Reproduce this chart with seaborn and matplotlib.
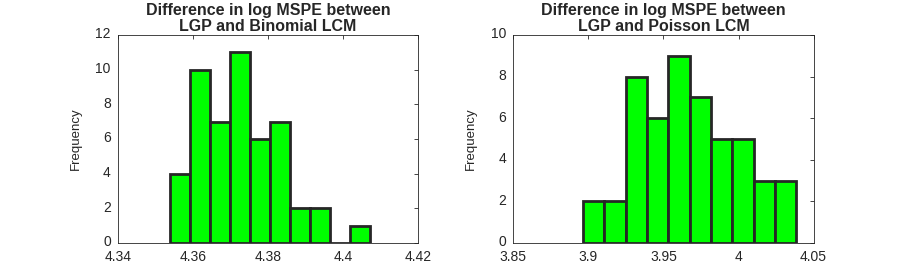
import numpy as np
import pandas as pd
import seaborn as sns
import matplotlib
matplotlib.use("Agg")
import matplotlib.pyplot as plt
from matplotlib.transforms import ScaledTranslation

# Binomial LCM histogram (bin edges + counts)
binom_edges = np.linspace(4.3539, 4.4072, 11)
binom_counts = [4, 10, 7, 11, 6, 7, 2, 2, 0, 1]

# Poisson LCM histogram
pois_edges = np.linspace(3.8963, 4.0385, 11)
pois_counts = [2, 2, 8, 6, 9, 7, 5, 5, 3, 3]

titles = ["Difference in log MSPE between\nLGP and Binomial LCM",
          "Difference in log MSPE between\nLGP and Poisson LCM"]
xlims = [(4.34, 4.42), (3.85, 4.05)]
xticks = [[4.34, 4.36, 4.38, 4.4, 4.42], [3.85, 3.9, 3.95, 4.0, 4.05]]
xticklabels = [["4.34", "4.36", "4.38", "4.4", "4.42"],
               ["3.85", "3.9", "3.95", "4", "4.05"]]
ylims = [(0, 12), (0, 10)]
yticks = [range(0, 13, 2), range(0, 11, 2)]

sns.set_style("white")
plt.rcParams["font.family"] = ["Liberation Sans", "DejaVu Sans"]

fig = plt.figure(figsize=(8.99, 2.73), dpi=100)
ax1 = fig.add_axes([0.131, 0.11, 0.334, 0.762])
ax2 = fig.add_axes([0.571, 0.11, 0.334, 0.762])

data = [(binom_edges, binom_counts), (pois_edges, pois_counts)]
for i, ax in enumerate([ax1, ax2]):
    edges, counts = data[i]
    df = pd.DataFrame({"val": (edges[:-1] + edges[1:]) / 2, "n": counts})
    sns.histplot(data=df, x="val", weights="n", bins=list(edges), ax=ax,
                 color="#00ff00", alpha=1, edgecolor="#262626", linewidth=2)
    ax.set_xlim(*xlims[i])
    ax.set_ylim(*ylims[i])
    ax.set_xticks(xticks[i])
    ax.set_xticklabels(xticklabels[i])
    ax.set_yticks(list(yticks[i]))
    ax.set_title(titles[i], fontsize=11.5, fontweight="bold", pad=3, linespacing=1.1)
    ax.set_ylabel("Frequency", fontsize=9.5)
    ax.yaxis.set_label_coords(-0.12, 0.5)
    ax.set_xlabel("")
    ax.tick_params(direction="in", length=3, width=0.6, colors="#262626",
                   labelsize=10, top=True, right=True)
    ax.tick_params(axis="x", pad=5)
    ax.tick_params(axis="y", pad=5)
    # lift y tick labels a touch so "0" clears the x labels
    for lab in ax.get_yticklabels():
        lab.set_transform(lab.get_transform() + ScaledTranslation(0, 1.5 / 72, fig.dpi_scale_trans))
    for s in ax.spines.values():
        s.set_color("#262626")
        s.set_linewidth(0.6)

fig.savefig("out.png", dpi=100)
